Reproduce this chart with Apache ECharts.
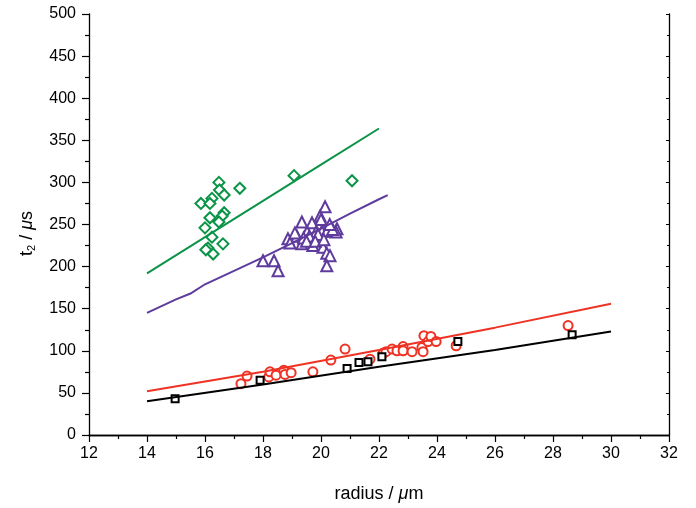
<!DOCTYPE html>
<html><head><meta charset="utf-8">
<script src="https://cdn.jsdelivr.net/npm/echarts@6/dist/echarts.min.js"></script>
<style>html,body{margin:0;padding:0;background:#fff}#c{width:696px;height:508px}</style>
</head><body><div id="c"></div>
<script>
// Data (radius in µm, t2 in µs)
const greenPts = [[19.07,308],[16.48,300],[17.2,293],[16.5,291],[16.66,285],[16.24,281],[15.86,275],[16.17,275],[16.66,264],[16.59,260],[16.17,258],[16.48,253],[16.0,246],[16.24,235],[16.62,227],[16.1,222],[16.28,215],[16.03,220],[21.07,302]];
const purplePts = [[20.14,271],[19.97,260],[20.0,256],[19.34,253],[19.69,252],[20.31,247],[20.55,245],[20.52,241],[19.52,241],[19.17,236],[19.83,241],[20.03,242],[20.2,242],[18.86,233],[18.93,228],[19.34,227],[19.72,225],[20.07,223],[20.2,216],[20.31,213],[20.2,201],[18.0,207],[18.38,207],[18.52,195],[19.4,234],[19.6,236],[19.9,238],[19.5,230],[19.8,230],[20.1,232],[20.4,244],[19.1,240],[20.3,250]];
const redPts = [[17.24,61],[17.45,70],[18.2,69],[18.24,75],[18.45,71],[18.72,77],[18.76,72],[18.97,74],[19.72,75],[20.34,89],[20.83,102],[21.69,90],[22.14,97],[22.24,99],[22.45,102],[22.62,100],[22.83,105],[22.83,100],[23.14,99],[23.48,104],[23.55,118],[23.52,99],[23.69,111],[23.79,117],[23.97,111],[24.66,106],[28.52,130]];
const blackPts = [[14.97,43],[17.9,65],[20.9,79],[21.31,86],[21.62,87],[22.1,93],[24.72,111],[28.66,119]];
const greenLine = [[14,192],[16,235],[18,278],[20,321],[22,364]];
const purpleLine = [[14,145],[15,161],[15.5,168],[16,179],[17,195],[18,211],[19,228],[20,245],[21,263],[22,280],[22.3,285]];
const redLine = [[14,52],[18,75],[22,101],[26,127.5],[30,156]];
const blackLine = [[14,40],[18,60],[22,81],[26,101],[30,123]];
const xTicks = {min:12, max:32, interval:2};
const yTicks = {min:0, max:500, interval:50};

const GREEN='#0b9447', PURPLE='#5e3b9c', RED='#ee3224', BLACK='#000000';
const font = 'Liberation Sans, Arial, Helvetica, sans-serif';
const chart = echarts.init(document.getElementById('c'));
function scatter(data, sym, color, size, bw){
  return {type:'scatter', data, symbol:sym, symbolSize:size, z:2,
    itemStyle:{color:color, borderColor:color, borderWidth:bw, opacity:1}, xAxisIndex:0, yAxisIndex:0};
}
function line(data,color){
  return {type:'line', data, showSymbol:false, symbol:'none', z:3, smooth:false,
    lineStyle:{color, width:2}, xAxisIndex:0, yAxisIndex:0};
}
const axisLine={show:true, lineStyle:{color:'#000', width:1.3}};
chart.setOption({
  animation:false,
  backgroundColor:'#fff',
  grid:{left:89, right:27, top:14, bottom:71, containLabel:false},
  xAxis:[{type:'value', min:xTicks.min, max:xTicks.max, interval:xTicks.interval,
    name:'radius / {i|μ}m', nameLocation:'middle', nameGap:50,
    nameTextStyle:{fontFamily:font, fontSize:18, color:'#000', rich:{i:{fontStyle:'italic', fontFamily:font, fontSize:18, color:'#000'}}},
    axisLine, axisTick:{show:true, inside:false, length:7, lineStyle:{color:'#000', width:1.2}},
    minorTick:{show:true, splitNumber:2, length:4, lineStyle:{color:'#000', width:1.2}},
    axisLabel:{fontFamily:font, fontSize:16, color:'#000', margin:11},
    splitLine:{show:false}},
   {type:'value', position:'top', min:xTicks.min, max:xTicks.max, interval:xTicks.interval,
    axisLine, axisTick:{show:true, inside:true, length:3, lineStyle:{color:'#000'}},
    minorTick:{show:true, splitNumber:2, length:2, lineStyle:{color:'#000'}},
    axisLabel:{show:false}, splitLine:{show:false}}],
  yAxis:[{type:'value', min:yTicks.min, max:yTicks.max, interval:yTicks.interval,
    name:'{a|t}{s|2}{a| / }{i|μ}{a|s}', nameLocation:'middle', nameGap:52, nameRotate:90,
    nameTextStyle:{fontFamily:font, fontSize:18, color:'#000', padding:[0,18,0,0],
      rich:{a:{fontFamily:font, fontSize:18, color:'#000'},
            s:{fontFamily:font, fontSize:11, color:'#000', padding:[9,0,0,0]},
            i:{fontStyle:'italic', fontFamily:font, fontSize:18, color:'#000'}}},
    axisLine, axisTick:{show:true, inside:false, length:7, lineStyle:{color:'#000', width:1.2}},
    minorTick:{show:true, splitNumber:2, length:4, lineStyle:{color:'#000', width:1.2}},
    axisLabel:{fontFamily:font, fontSize:16, color:'#000', margin:13},
    splitLine:{show:false}},
   {type:'value', position:'right', min:yTicks.min, max:yTicks.max, interval:yTicks.interval,
    axisLine, axisTick:{show:true, inside:true, length:3, lineStyle:{color:'#000'}},
    minorTick:{show:true, splitNumber:2, length:2, lineStyle:{color:'#000'}},
    axisLabel:{show:false}, splitLine:{show:false}}],
  series:[
    scatter(greenPts,'emptyDiamond',GREEN,11,1.7),
    scatter(purplePts,'emptyTriangle',PURPLE,11,1.7),
    scatter(redPts,'emptyCircle',RED,9,1.7),
    scatter(blackPts,'emptyRect',BLACK,7,1.8),
    line(greenLine,GREEN), line(purpleLine,PURPLE), line(redLine,RED), line(blackLine,BLACK)
  ]
});
</script></body></html>
